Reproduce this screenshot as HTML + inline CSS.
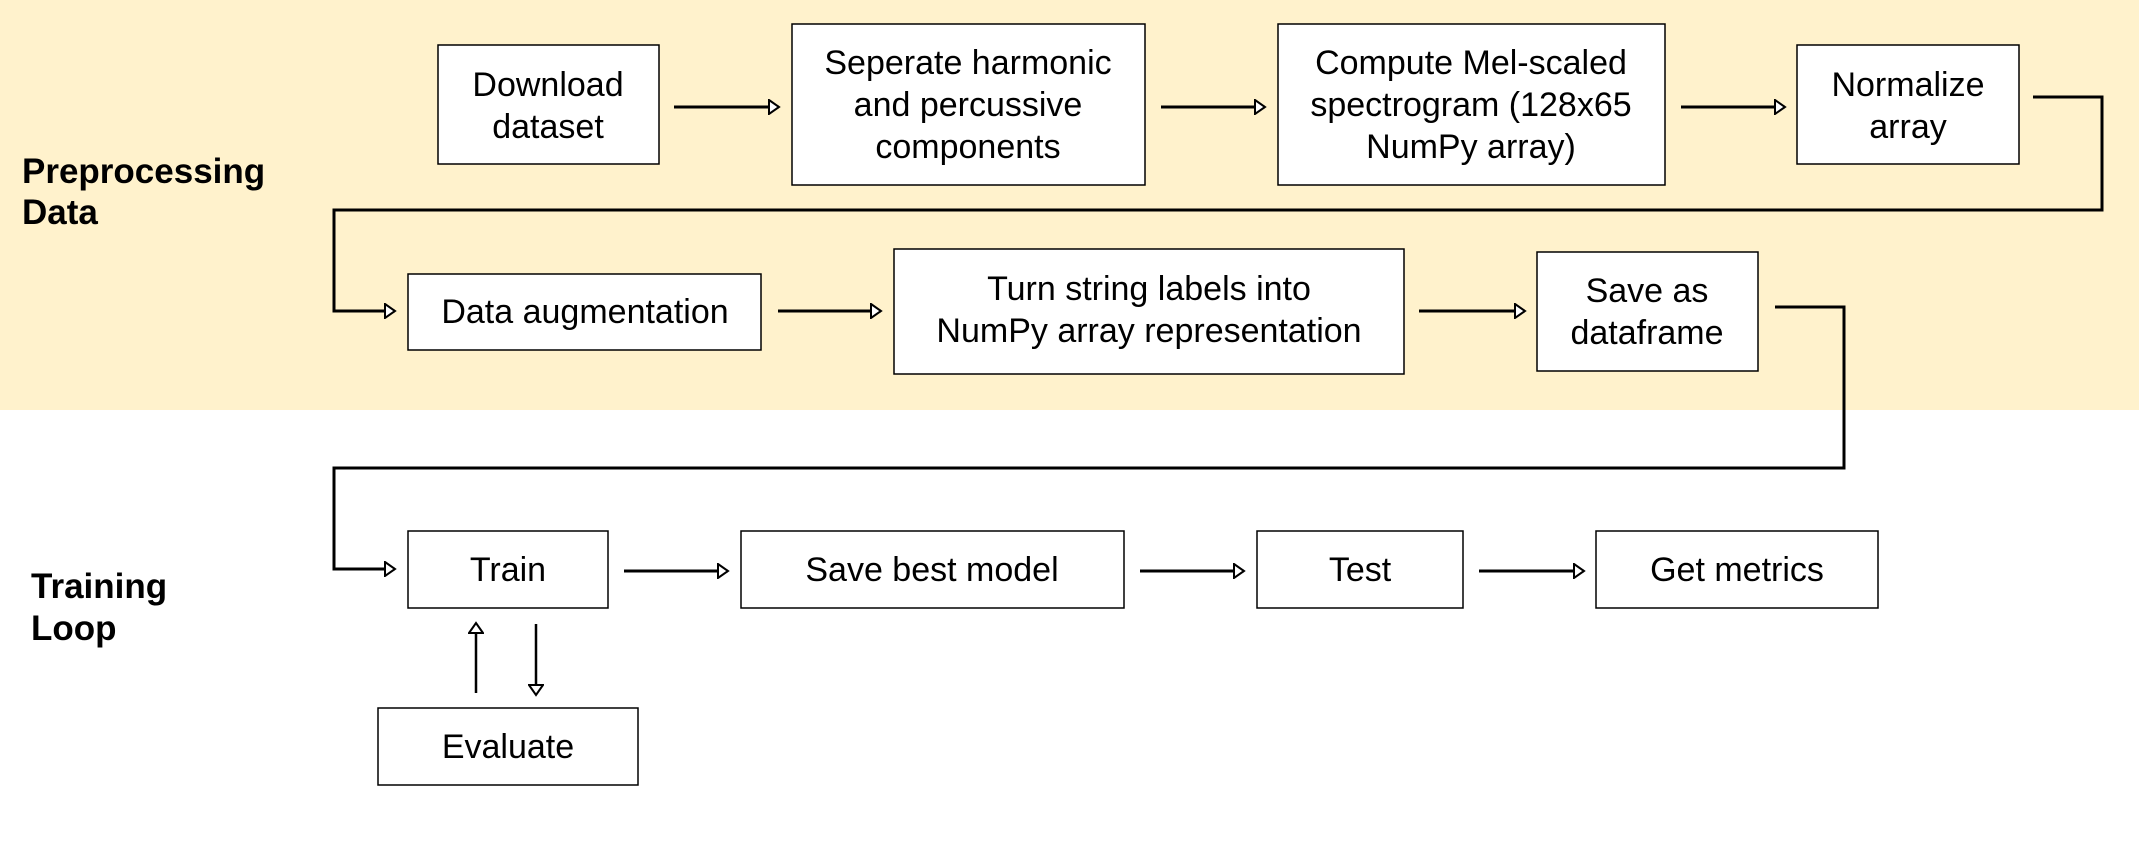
<!DOCTYPE html>
<html><head><meta charset="utf-8"><style>
html,body{margin:0;padding:0;background:#fff;}
svg{display:block;}
text{font-family:"Liberation Sans",Arial,sans-serif;fill:#000;}
</style></head><body>
<svg width="2139" height="858" viewBox="0 0 2139 858" xmlns="http://www.w3.org/2000/svg">
<defs>
<marker id="a" markerWidth="14" markerHeight="16" refX="11" refY="8" orient="auto" markerUnits="userSpaceOnUse">
<path d="M1,1 L11,8 L1,15 Z" fill="#fff" stroke="#000" stroke-width="2"/>
</marker>
</defs>
<rect x="0" y="0" width="2139" height="410" fill="#fff2cc"/>
<g fill="#fff" stroke="#000" stroke-width="1.5">
<rect x="438" y="45" width="221" height="119"/>
<rect x="792" y="24" width="353" height="161"/>
<rect x="1278" y="24" width="387" height="161"/>
<rect x="1797" y="45" width="222" height="119"/>
<rect x="408" y="274" width="353" height="76"/>
<rect x="894" y="249" width="510" height="125"/>
<rect x="1537" y="252" width="221" height="119"/>
<rect x="408" y="531" width="200" height="77"/>
<rect x="741" y="531" width="383" height="77"/>
<rect x="1257" y="531" width="206" height="77"/>
<rect x="1596" y="531" width="282" height="77"/>
<rect x="378" y="708" width="260" height="77"/>
</g>
<g stroke="#000" stroke-width="3" fill="none" marker-end="url(#a)">
<line x1="674" y1="107" x2="779" y2="107"/>
<line x1="1161" y1="107" x2="1265" y2="107"/>
<line x1="1681" y1="107" x2="1785" y2="107"/>
<polyline points="2033,97 2102,97 2102,210 334,210 334,311 395,311"/>
<line x1="778" y1="311" x2="881" y2="311"/>
<line x1="1419" y1="311" x2="1525" y2="311"/>
<polyline points="1775,307 1844,307 1844,468 334,468 334,569 395,569"/>
<line x1="624" y1="571" x2="728" y2="571"/>
<line x1="1140" y1="571" x2="1244" y2="571"/>
<line x1="1479" y1="571" x2="1584" y2="571"/>
<line x1="476" y1="693" x2="476" y2="623" stroke-width="2.5"/>
<line x1="536" y1="624" x2="536" y2="695" stroke-width="2.5"/>
</g>
<g font-size="34" text-anchor="middle">
<text x="548" y="96">Download</text><text x="548" y="138">dataset</text>
<text x="968" y="74">Seperate harmonic</text><text x="968" y="116">and percussive</text><text x="968" y="158">components</text>
<text x="1471" y="74">Compute Mel-scaled</text><text x="1471" y="116">spectrogram (128x65</text><text x="1471" y="158">NumPy array)</text>
<text x="1908" y="96">Normalize</text><text x="1908" y="138">array</text>
<text x="585" y="323">Data augmentation</text>
<text x="1149" y="300">Turn string labels into</text><text x="1149" y="342">NumPy array representation</text>
<text x="1647" y="302">Save as</text><text x="1647" y="344">dataframe</text>
<text x="508" y="581">Train</text>
<text x="932" y="581">Save best model</text>
<text x="1360" y="581">Test</text>
<text x="1737" y="581">Get metrics</text>
<text x="508" y="758">Evaluate</text>
</g>
<g font-size="35" font-weight="bold">
<text x="22" y="183">Preprocessing</text><text x="22" y="224">Data</text>
<text x="31" y="598">Training</text><text x="31" y="640">Loop</text>
</g>
</svg>
</body></html>
